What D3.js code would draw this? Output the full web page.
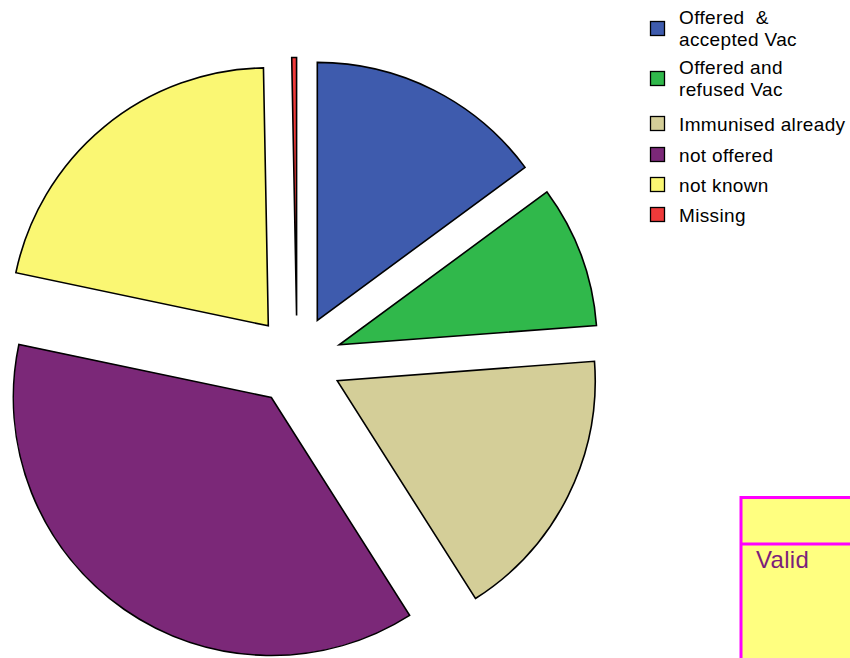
<!DOCTYPE html>
<html><head><meta charset="utf-8">
<script src="https://cdn.jsdelivr.net/npm/d3@7"></script>
<style>html,body{margin:0;padding:0;background:#fff;overflow:hidden}</style>
</head><body>
<svg id="c" width="850" height="658"></svg>
<script>
const categories = ["Offered  &\naccepted Vac", "Offered and\nrefused Vac", "Immunised already", "not offered", "not known", "Missing"];
const values = [14.9, 8.9, 17.2, 37.3, 21.4, 0.3];
const colors = ["#3e5bad", "#30b84b", "#d4ce98", "#7b2878", "#faf773", "#ee3a3a"];
const legendCenters = [29, 79, 124, 155, 185, 215];

const svg = d3.select("#c");
const cx = 297, cy = 360.5, R = 258, explode = 45;
const pie = d3.pie().sort(null).startAngle(0).endAngle(2 * Math.PI);
const arc = d3.arc().innerRadius(0).outerRadius(R);
const arcs = pie(values);
const g = svg.append("g").attr("transform", `translate(${cx},${cy})`);
g.selectAll("path").data(arcs).join("path")
  .attr("d", arc)
  .attr("transform", d => {
    const a = (d.startAngle + d.endAngle) / 2;
    return `translate(${explode * Math.sin(a)},${-explode * Math.cos(a)})`;
  })
  .attr("fill", (d, i) => colors[i])
  .attr("stroke", "#000")
  .attr("stroke-width", 1.6)
  .attr("stroke-linejoin", "miter");

const lg = svg.append("g").attr("font-family", "Liberation Sans, Arial, sans-serif")
  .attr("font-size", 19).attr("letter-spacing", 0.35);
categories.forEach((c, i) => {
  const yc = legendCenters[i];
  lg.append("rect").attr("x", 650.5).attr("y", yc - 7.5).attr("width", 14).attr("height", 14)
    .attr("fill", colors[i]).attr("stroke", "#000").attr("stroke-width", 1.3);
  const lines = c.split("\n");
  const t = lg.append("text").attr("x", 679).attr("fill", "#000");
  if (lines.length === 1) {
    t.attr("y", yc + 6.5).text(lines[0]).attr("xml:space", "preserve");
  } else {
    lines.forEach((l, j) => {
      t.append("tspan").attr("x", 679).attr("y", yc - 4.7 + j * 21.8).attr("xml:space", "preserve").text(l);
    });
  }
});

// "Valid" box
svg.append("rect").attr("x", 741).attr("y", 497.5).attr("width", 120).attr("height", 200)
  .attr("fill", "#ffff80").attr("stroke", "#ff00ff").attr("stroke-width", 3);
svg.append("line").attr("x1", 741).attr("x2", 860).attr("y1", 544).attr("y2", 544)
  .attr("stroke", "#ff00ff").attr("stroke-width", 3);
svg.append("text").attr("x", 756).attr("y", 567.5).attr("font-family", "Liberation Sans, Arial, sans-serif")
  .attr("font-size", 24).attr("letter-spacing", 0.3).attr("fill", "#7b1e7b").text("Valid");
</script>
</body></html>
